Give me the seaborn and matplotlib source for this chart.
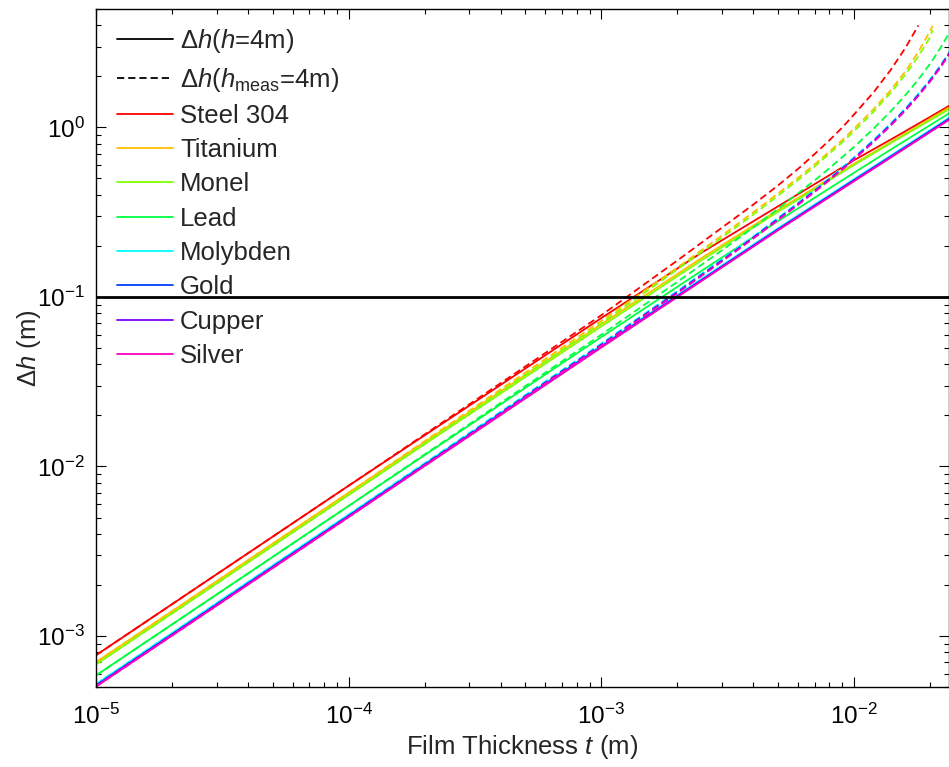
import numpy as np
import pandas as pd
import matplotlib
matplotlib.use('Agg')
import matplotlib.pyplot as plt
from matplotlib.lines import Line2D
import seaborn as sns

# materials and their colours (hsv(8) colormap)
materials = ['Steel 304', 'Titanium', 'Monel', 'Lead', 'Molybden', 'Gold', 'Cupper', 'Silver']
colors = ['#ff0000', '#ffbf00', '#80ff00', '#00ff40', '#00ffff', '#0040ff', '#8000ff', '#ff00bf']

# film thickness sample points (m) for the solid curves, h = 4 m
t_solid = [1e-5, 1e-4, 1e-3, 2.5e-3, 5e-3, 1e-2, 1.5e-2, 2.4e-2]
dh_steel = [7.7e-4, 7.7e-3, 0.075, 0.183, 0.342, 0.64, 0.90, 1.35]
dh_titanium = [7.0e-4, 7.0e-3, 0.069, 0.170, 0.325, 0.61, 0.87, 1.32]
dh_monel = [6.8e-4, 6.8e-3, 0.067, 0.165, 0.318, 0.60, 0.86, 1.29]
dh_lead = [5.85e-4, 5.85e-3, 0.058, 0.143, 0.280, 0.54, 0.79, 1.22]
dh_molybden = [5.2e-4, 5.2e-3, 0.0517, 0.128, 0.254, 0.495, 0.73, 1.15]
dh_gold = [5.1e-4, 5.1e-3, 0.0509, 0.126, 0.250, 0.488, 0.719, 1.133]
dh_cupper = [5.07e-4, 5.07e-3, 0.0507, 0.1255, 0.249, 0.485, 0.715, 1.127]
dh_silver = [5.03e-4, 5.03e-3, 0.0503, 0.1245, 0.247, 0.481, 0.710, 1.118]

# dashed curves, h_meas = 4 m (nan where the curve has stopped)
nan = np.nan
t_meas = [1e-5, 1e-4, 1e-3, 2e-3, 3e-3, 4e-3, 5e-3, 6e-3, 7e-3, 8e-3, 9e-3, 1e-2,
          1.2e-2, 1.4e-2, 1.6e-2, 1.8e-2, 2e-2, 2.05e-2, 2.2e-2, 2.4e-2]
dm_steel = [7.7e-4, 7.7e-3, 0.078, 0.164, 0.256, 0.351, 0.454, 0.568, 0.698, 0.840, 1.00, 1.19,
            1.62, 2.19, 2.95, 4.0, nan, nan, nan, nan]
dm_titanium = [7.0e-4, 7.0e-3, 0.0721, 0.149, 0.230, 0.316, 0.407, 0.503, 0.607, 0.720, 0.843, 0.981,
               1.287, 1.663, 2.145, 2.794, 3.69, 3.97, nan, nan]
dm_monel = [6.8e-4, 6.8e-3, 0.0699, 0.1454, 0.224, 0.3065, 0.395, 0.489, 0.590, 0.701, 0.819, 0.950,
            1.245, 1.606, 2.055, 2.628, 3.40, 3.75, nan, nan]
dm_lead = [5.85e-4, 5.85e-3, 0.0599, 0.1227, 0.1882, 0.2573, 0.3307, 0.4074, 0.488, 0.575, 0.668, 0.767,
           0.988, 1.247, 1.553, 1.917, 2.370, 2.50, 2.94, 3.68]
dm_molybden = [5.2e-4, 5.2e-3, 0.0531, 0.1083, 0.1665, 0.2277, 0.2923, 0.3588, 0.429, 0.5028, 0.581, 0.665,
               0.848, 1.057, 1.296, 1.581, 1.916, 2.013, 2.322, 2.824]
dm_gold = [5.1e-4, 5.1e-3, 0.0523, 0.1067, 0.164, 0.2243, 0.288, 0.3534, 0.4226, 0.4953, 0.572, 0.655,
           0.835, 1.041, 1.277, 1.557, 1.887, 1.983, 2.287, 2.782]
dm_cupper = [5.07e-4, 5.07e-3, 0.052, 0.1061, 0.1632, 0.2231, 0.2865, 0.3516, 0.4204, 0.4927, 0.569, 0.652,
             0.831, 1.036, 1.270, 1.549, 1.878, 1.973, 2.276, 2.768]
dm_silver = [5.03e-4, 5.03e-3, 0.0516, 0.1053, 0.1618, 0.2213, 0.2841, 0.3488, 0.417, 0.4887, 0.565, 0.646,
             0.824, 1.027, 1.260, 1.537, 1.862, 1.957, 2.257, 2.745]

threshold = 0.1

solid = [dh_steel, dh_titanium, dh_monel, dh_lead, dh_molybden, dh_gold, dh_cupper, dh_silver]
meas = [dm_steel, dm_titanium, dm_monel, dm_lead, dm_molybden, dm_gold, dm_cupper, dm_silver]

rows = []
for name, ys in zip(materials, solid):
    for t, y in zip(t_solid, ys):
        rows.append({'t': t, 'dh': y, 'material': name, 'kind': 'h'})
for name, ys in zip(materials, meas):
    for t, y in zip(t_meas, ys):
        rows.append({'t': t, 'dh': y, 'material': name, 'kind': 'hmeas'})
df = pd.DataFrame(rows).dropna()

sns.set_style('ticks')
plt.rcParams['font.family'] = ['Liberation Sans', 'DejaVu Sans']
plt.rcParams['mathtext.fontset'] = 'custom'
plt.rcParams['mathtext.rm'] = 'Liberation Sans'
plt.rcParams['mathtext.it'] = 'Liberation Sans:italic'
plt.rcParams['mathtext.bf'] = 'Liberation Sans:bold'

fig = plt.figure(figsize=(9.49, 7.67), dpi=100)
ax = fig.add_axes([96 / 949, 1 - 687 / 767, 1 - 96 / 949, (687 - 9) / 767])

palette = dict(zip(materials, colors))
sns.lineplot(data=df, x='t', y='dh', hue='material', style='kind',
             palette=palette, dashes={'h': '', 'hmeas': (4, 2.2)},
             estimator=None, sort=True, linewidth=1.3, legend=False, ax=ax)

ax.axhline(threshold, color='black', linewidth=2)

ax.set_xscale('log')
ax.set_yscale('log')
ax.set_xlim(1e-5, 0.0238)
ax.set_ylim(5e-4, 5)

ax.tick_params(which='both', direction='in', top=True, right=True,
               labelsize=17.5, colors='black')
ax.tick_params(which='major', length=7, width=0.8)
ax.tick_params(which='minor', length=3.5, width=0.8)
ax.tick_params(axis='x', which='major', pad=12)
ax.tick_params(axis='y', which='major', pad=8)
for s in ax.spines.values():
    s.set_linewidth(1)
    s.set_color('black')

ax.set_xlabel(r'Film Thickness $t$ (m)', fontsize=18.5, labelpad=3)
ax.set_ylabel(r'$\Delta h$ (m)', fontsize=18.5, labelpad=-4)

handles = [Line2D([], [], color='black', lw=1.3),
           Line2D([], [], color='black', lw=1.3, dashes=(4, 2.2))]
labels = [r'$\Delta h$($h$=4m)', r'$\Delta h$($h_{\rm meas}$=4m)']
for name, c in zip(materials, colors):
    handles.append(Line2D([], [], color=c, lw=1.3))
    labels.append(name)
ax.legend(handles, labels, loc='upper left', frameon=False, fontsize=18.5,
          handlelength=2.18, handletextpad=0.27, labelspacing=0.4,
          borderpad=0, borderaxespad=0, bbox_to_anchor=(0.0246, 0.973))

fig.savefig('out.png', dpi=100)
